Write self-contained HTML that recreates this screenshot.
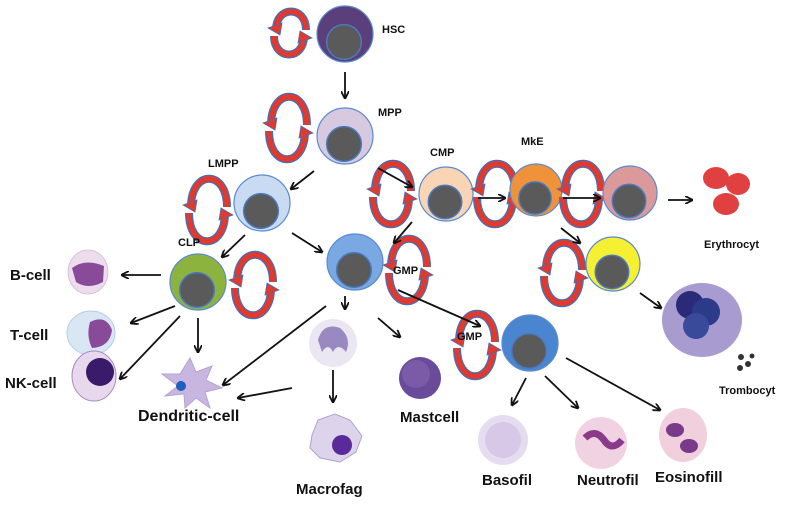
<!DOCTYPE html>
<html><head><meta charset="utf-8"><style>
html,body{margin:0;padding:0;background:#fff;}
svg{display:block;}
text{font-family:"Liberation Sans",sans-serif;font-weight:bold;fill:#111;}
</style></head><body>
<svg id="s" width="796" height="515" viewBox="0 0 796 515" xmlns="http://www.w3.org/2000/svg">
<defs>
<marker id="ah" markerWidth="8" markerHeight="8" refX="7" refY="4" orient="auto" markerUnits="userSpaceOnUse">
<path d="M0,0 L8,4 L0,8" fill="none" stroke="#111" stroke-width="1.8"/></marker>
</defs>
<g id="cells"></g>
<g>
<ellipse cx="88" cy="272" rx="20" ry="22" fill="#ecdcec" stroke="#d6c2dc"/>
<path d="M72,268 Q85,258 104,266 L103,282 Q88,290 76,282 Z" fill="#8a4a9a"/>
<ellipse cx="91" cy="333" rx="24" ry="22" fill="#d9e6f4" stroke="#b9cde6"/>
<path d="M90,322 Q106,314 112,330 Q110,347 92,348 Q86,336 90,322Z" fill="#8a4a9a"/>
<ellipse cx="94" cy="376" rx="22" ry="25" fill="#e8d8ee" stroke="#a88ac0"/>
<circle cx="100" cy="372" r="14" fill="#3a1a6a"/>
<path d="M190,358 L196,372 L212,366 L206,380 L222,388 L205,392 L210,408 L196,398 L185,408 L184,394 L165,396 L178,386 L162,374 L180,374 Z" fill="#c8b6e0" stroke="#b6a2d2"/>
<circle cx="181" cy="386" r="5" fill="#1f5fbf"/>
<circle cx="333" cy="343" r="24" fill="#eae6f2"/>
<path d="M318,340 Q323,322 340,328 Q352,338 346,352 Q338,342 333,352 Q328,342 322,352 Z" fill="#9a88c0"/>
<path d="M312,435 L318,420 L335,414 L350,420 L362,436 L356,452 L340,462 L320,458 L310,448 Z" fill="#ddd4ec" stroke="#b0a0cc"/>
<circle cx="342" cy="445" r="10" fill="#5a2a9a"/>
<circle cx="420" cy="378" r="21" fill="#6a4a9a"/>
<circle cx="416" cy="374" r="14" fill="#7b5aa8"/>
<circle cx="503" cy="440" r="25" fill="#e6dcef"/>
<circle cx="503" cy="440" r="18" fill="#d6c8e6"/>
<circle cx="601" cy="443" r="26" fill="#f0d2e2"/>
<path d="M585,438 Q595,428 604,440 Q612,452 622,440" stroke="#8a3a8a" stroke-width="7" fill="none"/>
<ellipse cx="683" cy="435" rx="24" ry="27" fill="#f2cfdc"/>
<ellipse cx="675" cy="430" rx="9" ry="7" fill="#7a3a8a"/><ellipse cx="689" cy="446" rx="9" ry="7" fill="#7a3a8a"/>
<ellipse cx="702" cy="320" rx="40" ry="37" fill="#a79bcf"/>
<circle cx="690" cy="305" r="14" fill="#2a2a78"/><circle cx="706" cy="312" r="14" fill="#2c3a8a"/><circle cx="696" cy="326" r="13" fill="#3a4a9a"/>
<circle cx="741" cy="357" r="3" fill="#333"/><circle cx="748" cy="364" r="3" fill="#333"/><circle cx="740" cy="368" r="3" fill="#333"/><circle cx="752" cy="356" r="2.5" fill="#333"/>
<ellipse cx="716" cy="178" rx="13" ry="11" fill="#e04040"/><ellipse cx="738" cy="184" rx="12" ry="11" fill="#e04040"/><ellipse cx="726" cy="204" rx="13" ry="11" fill="#e04040"/>
</g>
<g id="arr" stroke="#111" stroke-width="1.8" fill="none"></g>
<text x="382" y="33" font-size="11">HSC</text>
<text x="378" y="116" font-size="11">MPP</text>
<text x="208" y="167" font-size="11">LMPP</text>
<text x="430" y="156" font-size="11">CMP</text>
<text x="521" y="145" font-size="11">MkE</text>
<text x="178" y="246" font-size="11">CLP</text>
<text x="393" y="274" font-size="11">GMP</text>
<text x="457" y="340" font-size="11">GMP</text>
<text x="10" y="280" font-size="15">B-cell</text>
<text x="10" y="340" font-size="15">T-cell</text>
<text x="5" y="388" font-size="15">NK-cell</text>
<text x="138" y="421" font-size="16">Dendritic-cell</text>
<text x="296" y="494" font-size="15">Macrofag</text>
<text x="400" y="422" font-size="15">Mastcell</text>
<text x="482" y="485" font-size="15">Basofil</text>
<text x="577" y="485" font-size="15">Neutrofil</text>
<text x="655" y="482" font-size="15">Eosinofill</text>
<text x="704" y="248" font-size="11">Erythrocyt</text>
<text x="719" y="394" font-size="11">Trombocyt</text>
</svg>
<script>
var NS="http://www.w3.org/2000/svg";
function el(p,t,a){var e=document.createElementNS(NS,t);for(var k in a)e.setAttribute(k,a[k]);p.appendChild(e);return e;}
var C=document.getElementById("cells");
function cycle(cx,cy,rx,ry){
 var g=el(C,"g",{});
 var k=ry*1.3;
 var top="M"+(cx+rx-1)+","+(cy-3)+" C"+(cx+rx-1)+","+(cy-3-k)+" "+(cx-rx+3)+","+(cy-3-k)+" "+(cx-rx+3)+","+(cy-3);
 var bot="M"+(cx-rx+1)+","+(cy+3)+" C"+(cx-rx+1)+","+(cy+3+k)+" "+(cx+rx-3)+","+(cy+3+k)+" "+(cx+rx-3)+","+(cy+3);
 [["#3f6fc0",8],["#e03a2e",5.5]].forEach(function(s){
  el(g,"path",{d:top,fill:"none",stroke:s[0],"stroke-width":s[1]});
  el(g,"path",{d:bot,fill:"none",stroke:s[0],"stroke-width":s[1]});
 });
 el(g,"polygon",{points:(cx-rx-5)+","+(cy-5)+" "+(cx-rx+9)+","+(cy-10)+" "+(cx-rx+7)+","+(cy+2),fill:"#e03a2e",stroke:"#3f6fc0","stroke-width":0.8});
 el(g,"polygon",{points:(cx+rx+5)+","+(cy+5)+" "+(cx+rx-9)+","+(cy+10)+" "+(cx+rx-7)+","+(cy-2),fill:"#e03a2e",stroke:"#3f6fc0","stroke-width":0.8});
}
function cell(cx,cy,r,fill){
 el(C,"circle",{cx:cx,cy:cy,r:r,fill:fill,stroke:"#5a8ad0","stroke-width":1.2});
 el(C,"circle",{cx:cx-1,cy:cy+8,r:r*0.62,fill:"#5a5a5a",stroke:"#4a7ac0","stroke-width":1.5});
}
cycle(290,33,17,19);cell(345,34,28,"#5b3f7a");
cycle(288,128,20,29);cell(345,136,28,"#d6c9e0");
cycle(208,210,20,29);cell(262,203,28,"#c9dbf2");
cycle(392,194,20,28);cell(446,194,27,"#f9d5b5");
cycle(496,194,20,28);cell(536,190,26,"#f0923a");
cycle(582,194,20,28);cell(630,193,27,"#dc9999");
cycle(563,273,20,28);cell(613,264,27,"#f5f032");
cycle(254,285,20,28);cell(198,282,28,"#8db33f");
cycle(408,270,20,29);cell(355,262,28,"#7aa8e2");
cycle(476,345,20,29);cell(530,343,28,"#4a86d0");
var A=document.getElementById("arr");
[[345,72,345,98],[314,171,291,189],[378,168,412,187],[245,235,222,257],[292,233,322,252],[412,222,394,243],[478,198,505,198],[563,198,600,198],[668,200,692,200],[561,228,580,243],[640,293,661,308],[398,290,480,326],[161,275,122,275],[175,306,131,323],[180,316,120,379],[198,318,198,352],[326,306,223,385],[292,388,238,398],[345,296,345,309],[333,370,333,402],[378,318,400,337],[526,378,512,405],[545,376,578,408],[566,358,660,410]].forEach(function(a){
 el(A,"line",{x1:a[0],y1:a[1],x2:a[2],y2:a[3],"marker-end":"url(#ah)"});
});
</script>
</body></html>
